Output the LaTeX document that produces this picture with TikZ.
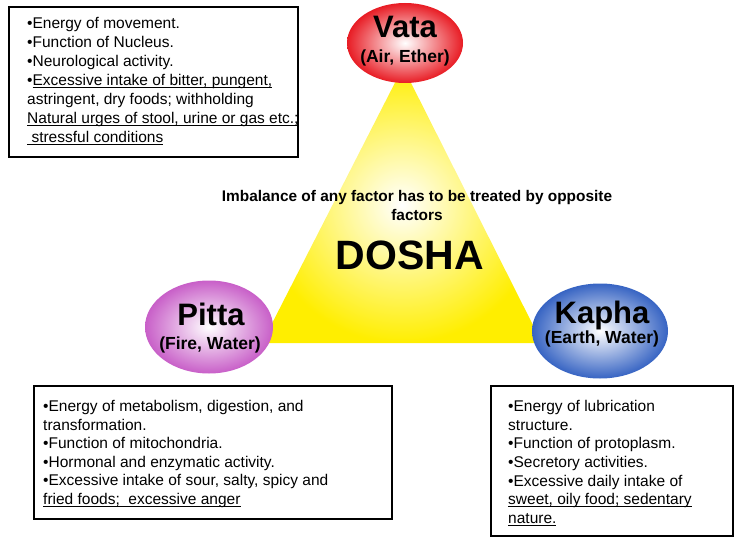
\documentclass[tikz,border=0pt]{standalone}
\usepackage{fontspec}
\setmainfont{Liberation Sans}
\usepackage{tikz}
\usetikzlibrary{shapes.geometric,positioning}

\definecolor{vatared}{RGB}{232,28,36}
\definecolor{pittapink}{RGB}{200,95,200}
\definecolor{kaphablue}{RGB}{55,100,195}
\definecolor{doshayellow}{RGB}{255,238,0}
\newcommand{\ul}[1]{\underline{\smash{#1}}}

\begin{document}
\begin{tikzpicture}[x=1pt,y=-1pt,
  infobox/.style={draw, line width=1.6pt, inner sep=0pt, anchor=north west},
  facts/.style={anchor=north west, align=left, inner sep=0pt},
  doshaball/.style={ellipse, shade, inner color=white, outer color=#1, inner sep=0pt},
  doshaname/.style={anchor=base, inner sep=0pt, font=\bfseries\fontsize{31}{31}\selectfont},
  doshaelem/.style={anchor=base, inner sep=0pt, font=\bfseries\fontsize{17.5}{17.5}\selectfont}]
  \useasboundingbox (0,0) rectangle (738,537);

  % central triangle
  \shade[inner color=white, outer color=doshayellow] (403,67) -- (262,343) -- (542,343) -- cycle;

  % the three doshas
  \node[doshaball=vatared, minimum width=116pt, minimum height=80pt] (vata) at (405,43) {};
  \node[doshaball=pittapink, minimum width=128pt, minimum height=93pt] (pitta) at (209,327) {};
  \node[doshaball=kaphablue, minimum width=136pt, minimum height=95pt] (kapha) at (600,331) {};
  \node[doshaname] (vataname) at (405,38) {Vata};
  \node[doshaelem] (vataelem) at (405,63) {(Air, Ether)};
  \node[doshaname] (pittaname) at (211,325) {Pitta};
  \node[doshaelem] (pittaelem) at (210,349) {(Fire, Water)};
  \node[doshaname] (kaphaname) at (602,323) {Kapha};
  \node[doshaelem] (kaphaelem) at (602,343) {(Earth, Water)};

  % centre
  \node[anchor=north, align=center, inner sep=0pt, font=\bfseries\fontsize{15.4}{19}\selectfont] (rule) at (417,190)
    {Imbalance of any factor has to be treated by opposite\\factors};
  \node[anchor=base, inner sep=0pt, font=\bfseries\fontsize{41}{41}\selectfont] (dosha) at (410,269) {DOSHA};

  % boxes
  \node[infobox, minimum width=289pt, minimum height=150pt] (vatabox) at (8,6) {};
  \node[facts, font=\fontsize{15.5}{19}\selectfont] (vatatext) at (27,17)
    {•Energy of movement.\\
     •Function of Nucleus.\\
     •Neurological activity.\\
     •\ul{Excessive intake of bitter, pungent,}\\
     astringent, dry foods; withholding\\
     \ul{Natural urges of stool, urine or gas etc.;}\\
     \ul{\ stressful conditions}};
  \node[infobox, minimum width=358pt, minimum height=133pt] (pittabox) at (33,385) {};
  \node[facts, font=\fontsize{15.5}{18.6}\selectfont] (pittatext) at (43,400)
    {•Energy of metabolism, digestion, and\\
     transformation.\\
     •Function of mitochondria.\\
     •Hormonal and enzymatic activity.\\
     •Excessive intake of sour, salty, spicy and\\
     \ul{fried foods;\ \ excessive anger}};
  \node[infobox, minimum width=242pt, minimum height=150pt] (kaphabox) at (490,385) {};
  \node[facts, font=\fontsize{15.5}{18.7}\selectfont] (kaphatext) at (508,400)
    {•Energy of lubrication\\
     structure.\\
     •Function of protoplasm.\\
     •Secretory activities.\\
     •Excessive daily intake of\\
     \ul{sweet, oily food; sedentary}\\
     \ul{nature.}};
\end{tikzpicture}
\end{document}
